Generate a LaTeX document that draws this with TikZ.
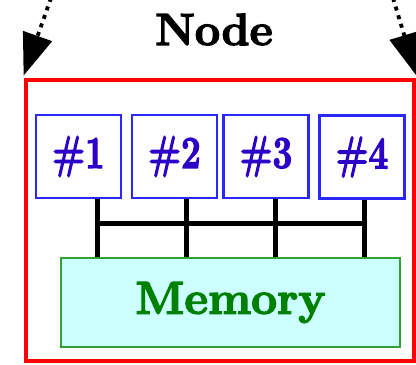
\documentclass[tikz,border=0pt]{standalone}
\usepackage{fontspec}
\setmainfont{Latin Modern Roman}[BoldFeatures={FakeBold=3}]
\usetikzlibrary{arrows.meta}
\definecolor{nodered}{RGB}{255,0,0}
\definecolor{cpublue}{RGB}{40,40,255}
\definecolor{cputext}{RGB}{45,0,200}
\definecolor{memfill}{RGB}{204,255,255}
\definecolor{memedge}{RGB}{50,160,50}
\definecolor{memtext}{RGB}{0,128,0}
\tikzset{
  cpubox/.style={draw=cpublue, line width=2.6pt, minimum width=85pt, minimum height=83pt,
    inner sep=0pt, text=cputext, font=\fontsize{35}{40}\selectfont\bfseries},
  membox/.style={draw=memedge, fill=memfill, line width=2.8pt, minimum width=339pt,
    minimum height=89pt, inner sep=0pt, text=memtext, font=\fontsize{46}{52}\selectfont\bfseries},
  bus/.style={line width=5pt, black},
  incoming/.style={line width=3.8pt, dash pattern=on 4pt off 5pt,
    -{Triangle[length=42pt,width=30pt]}},
}
\newcommand{\tallnum}[1]{\scalebox{1}[1.3]{#1}}
\begin{document}
\begin{tikzpicture}[x=1pt,y=-1pt]
  \useasboundingbox (0,0) rectangle (416,365);
  % enclosing node frame
  \node[draw=nodered, line width=4.8pt, minimum width=388pt, minimum height=281pt,
        inner sep=0pt] (frame) at (220,220.5) {};
  \coordinate (srcl) at (51,-2);
  \coordinate (srcr) at (393,-2);
  \draw[incoming] (srcl) -- ([yshift=2pt]frame.north west);
  \draw[incoming] (srcr) -- ([yshift=2pt]frame.north east);
  \node[anchor=base, font=\fontsize{45}{52}\selectfont\bfseries] (title) at (214,45) {Node};
  % processors
  \node[cpubox] (p1) at (78.5,156.5) {\tallnum{\#1}};
  \node[cpubox] (p2) at (174.5,156.5) {\tallnum{\#2}};
  \node[cpubox] (p3) at (266,156.5) {\tallnum{\#3}};
  \node[cpubox] (p4) at (362,157) {\tallnum{\#4}};
  % shared memory
  \node[membox] (mem) at (230.5,302.5) {Memory};
  % interconnect: one drop per processor, tied together by a crossbar
  \foreach \p/\dx in {p1/18.5,p2/11.5,p3/9,p4/2}{
    \draw[bus] ([xshift=\dx pt]\p.south) -- ([xshift=\dx pt]\p.south |- mem.north);
  }
  \coordinate (busl) at ([xshift=18.5pt, yshift=-24pt]p1.south);
  \coordinate (busr) at ([xshift=2pt]p4.south |- busl);
  \draw[bus] (busl) -- (busr);
\end{tikzpicture}
\end{document}
